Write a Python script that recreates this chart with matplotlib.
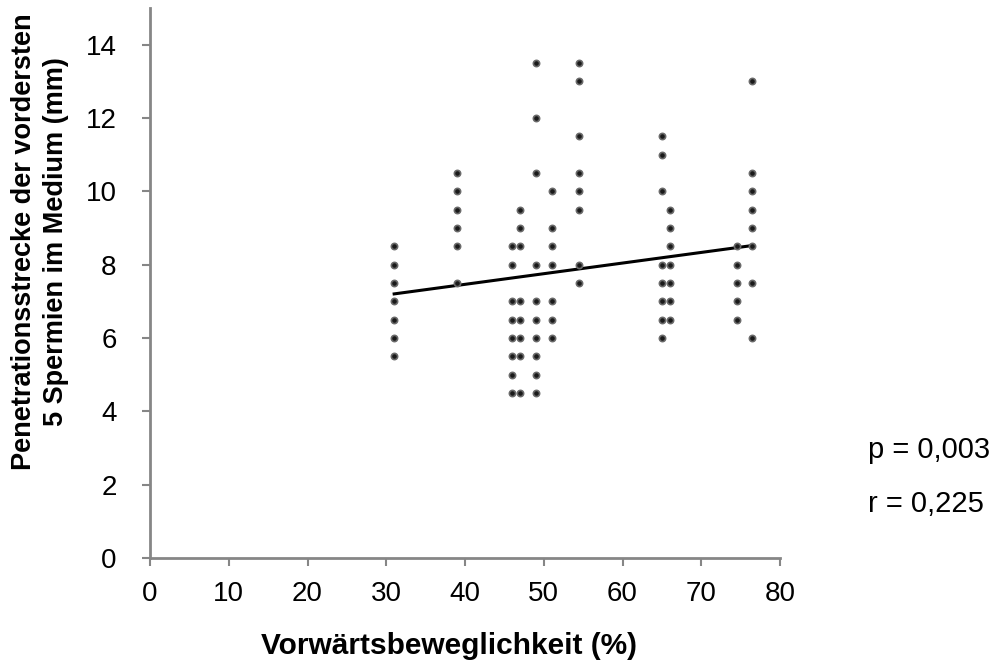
import numpy as np
import matplotlib.pyplot as plt

plt.rcParams['font.family'] = ['Liberation Sans', 'DejaVu Sans']

# Data: x column -> list of y values
col_x = [31, 39, 46, 47, 49, 51, 54.5, 65, 66, 74.5, 76.5]
col_y = [
    [8.5, 8.0, 7.5, 7.0, 6.5, 6.0, 5.5],
    [10.5, 10.0, 9.5, 9.0, 8.5, 7.5],
    [8.5, 8.0, 7.0, 6.5, 6.0, 5.5, 5.0, 4.5],
    [9.5, 9.0, 8.5, 7.0, 6.5, 6.0, 5.5, 4.5],
    [13.5, 12.0, 10.5, 8.0, 7.0, 6.5, 6.0, 5.5, 5.0, 4.5],
    [10.0, 9.0, 8.5, 8.0, 7.0, 6.5, 6.0],
    [13.5, 13.0, 11.5, 10.5, 10.0, 9.5, 8.0, 7.5],
    [11.5, 11.0, 10.0, 8.0, 7.5, 7.0, 6.5, 6.0],
    [9.5, 9.0, 8.5, 8.0, 7.5, 7.0, 6.5],
    [8.5, 8.0, 7.5, 7.0, 6.5],
    [13.0, 10.5, 10.0, 9.5, 9.0, 8.5, 7.5, 6.0],
]
trend_x = [31, 76.5]
trend_y = [7.2, 8.52]

x = np.concatenate([[cx] * len(cy) for cx, cy in zip(col_x, col_y)])
y = np.concatenate(col_y)

fig = plt.figure(figsize=(10.07, 6.61), dpi=100)
ax = fig.add_axes([0.149, 0.156, 0.6256, 0.832])

ax.plot(x, y, 'o', ms=4.5, mfc='#1a1a1a', mec='#6a6a6a', mew=1.2, zorder=3)
ax.plot(trend_x, trend_y, color='black', lw=2.2, zorder=2)

ax.set_xlim(0, 80)
ax.set_ylim(0, 15)
ax.set_xticks(np.arange(0, 81, 10))
ax.set_yticks(np.arange(0, 15, 2))

gray = '#868686'
for s in ['top', 'right']:
    ax.spines[s].set_visible(False)
for s in ['left', 'bottom']:
    ax.spines[s].set_color(gray)
    ax.spines[s].set_linewidth(2)
ax.tick_params(axis='both', colors=gray, length=6, width=1.5, labelsize=20,
               labelcolor='black')
ax.tick_params(axis='x', pad=11)
ax.tick_params(axis='y', pad=18)

ax.set_xlabel('Vorwärtsbeweglichkeit (%)', fontsize=21.5, fontweight='bold')
ax.xaxis.set_label_coords(0.475, -0.135)
ax.set_ylabel('Penetrationsstrecke der vordersten\n5 Spermien im Medium (mm)',
              fontsize=19.5, fontweight='bold', linespacing=1.3)
ax.yaxis.set_label_coords(-0.128, 0.575)

fig.text(0.862, 0.319, 'p = 0,003', fontsize=21, va='center')
fig.text(0.862, 0.237, 'r = 0,225', fontsize=21, va='center')

fig.savefig('out.png', dpi=100)
